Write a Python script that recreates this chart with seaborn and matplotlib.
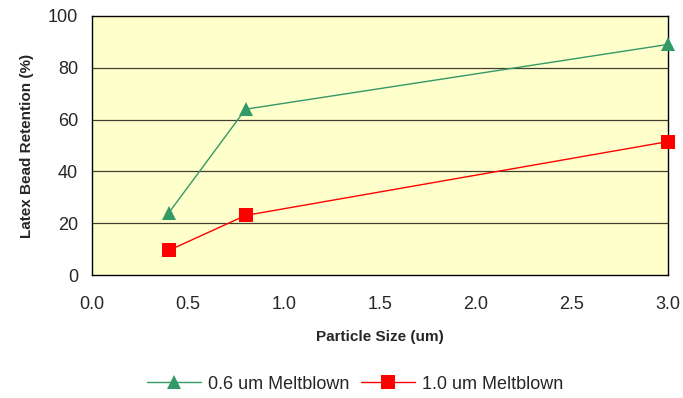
import matplotlib
matplotlib.use("Agg")
import matplotlib.pyplot as plt
import seaborn as sns
import pandas as pd
from matplotlib.lines import Line2D

sizes = [0.4, 0.8, 3.0]
mb06 = [24, 64, 89]
mb10 = [9.5, 23, 51.5]
series_names = ["0.6 um Meltblown", "1.0 um Meltblown"]

sns.set_theme(style="white")
plt.rcParams['font.family'] = ['Liberation Sans', 'DejaVu Sans']

df = pd.DataFrame({
    "size": sizes * 2,
    "ret": mb06 + mb10,
    "series": [series_names[0]] * 3 + [series_names[1]] * 3,
})

fig = plt.figure(figsize=(6.83, 3.98), dpi=100)
ax = fig.add_axes([0.1347, 0.309, 0.8433, 0.651])
ax.set_facecolor("#FFFFCC")

palette = {series_names[0]: "#339966", series_names[1]: "#FF0000"}
markers = {series_names[0]: "^", series_names[1]: "s"}
sns.lineplot(data=df, x="size", y="ret", hue="series", style="series",
             palette=palette, markers=markers, dashes=False, ax=ax,
             linewidth=1.0, markersize=10, markeredgewidth=0, legend=False,
             clip_on=False, zorder=3)

ax.set_xlim(0, 3.0)
ax.set_ylim(0, 100)
ax.set_xticks([0, 0.5, 1.0, 1.5, 2.0, 2.5, 3.0])
ax.set_xticklabels(["0.0", "0.5", "1.0", "1.5", "2.0", "2.5", "3.0"])
ax.set_yticks([0, 20, 40, 60, 80, 100])
for y in [20, 40, 60, 80]:
    ax.axhline(y, color="#404030", linewidth=0.9, zorder=0.5)
for s in ax.spines.values():
    s.set_color("black")
    s.set_linewidth(1.0)
ax.tick_params(axis="both", direction="out", length=5, width=1, color="black",
               labelsize=13, pad=5)
ax.tick_params(axis="x", pad=10)
ax.set_xlabel("Particle Size (um)", fontsize=11, fontweight="bold", labelpad=12)
ax.set_ylabel("Latex Bead Retention (%)", fontsize=11, fontweight="bold", labelpad=10)

handles = [
    Line2D([], [], color="#339966", marker="^", markersize=10, markeredgewidth=0, linewidth=1.0),
    Line2D([], [], color="#FF0000", marker="s", markersize=10, markeredgewidth=0, linewidth=1.0),
]
fig.legend(handles, series_names, loc="center", bbox_to_anchor=(0.52, 0.035), ncol=2,
           frameon=False, fontsize=13, handlelength=3, columnspacing=0.6, handletextpad=0.4)

fig.savefig("out.png", dpi=100)
